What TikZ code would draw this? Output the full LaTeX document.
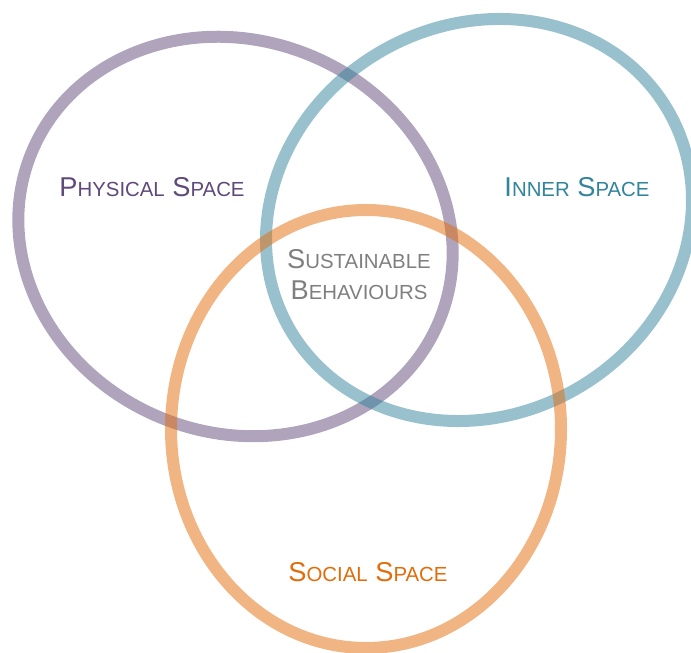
\documentclass[tikz,border=0pt]{standalone}
\usepackage{fontspec}
\setmainfont{Liberation Sans}
\usetikzlibrary{positioning}
\usepackage{xcolor}

\definecolor{physpurple}{HTML}{5F497A}
\definecolor{innerteal}{HTML}{31849B}
\definecolor{socorange}{HTML}{E36C0A}
\definecolor{coregrey}{HTML}{7F7F7F}

% big initial, smaller capitals for the rest
\newcommand{\capword}[2]{{\fontsize{15.5}{16}\selectfont #1}{\fontsize{11.6}{16}\selectfont #2}}

\begin{document}
\begin{tikzpicture}[
      ring/.style={line width=0.24cm,draw opacity=0.5},
      lbl/.style={align=center,inner sep=0pt,font=\fontsize{15.5}{17.6}\selectfont}]
    \useasboundingbox (0,0) rectangle (13.82,13.06);

    % the three spaces
    \draw[ring,physpurple,shift={(4.71,8.33)},rotate=-22.3] (0,0) ellipse (4.41 and 3.92);
    \draw[ring,innerteal,shift={(9.58,8.66)},rotate=29.7] (0,0) ellipse (4.37 and 3.90);
    \draw[ring,socorange] (7.32,4.48) ellipse (3.90 and 4.38);

    \node[lbl,text=physpurple] (phys) at (3.04,9.32) {\capword{P}{HYSICAL} \capword{S}{PACE}};
    \node[lbl,text=innerteal]  (inner) at (11.54,9.32) {\capword{I}{NNER} \capword{S}{PACE}};
    \node[lbl,text=socorange]  (soc) at (7.36,1.62) {\capword{S}{OCIAL} \capword{S}{PACE}};

    % overlap of all three
    \node[lbl,text=coregrey] (core) at (7.18,7.56)
      {\capword{S}{USTAINABLE}\\\capword{B}{EHAVIOURS}};
\end{tikzpicture}
\end{document}
